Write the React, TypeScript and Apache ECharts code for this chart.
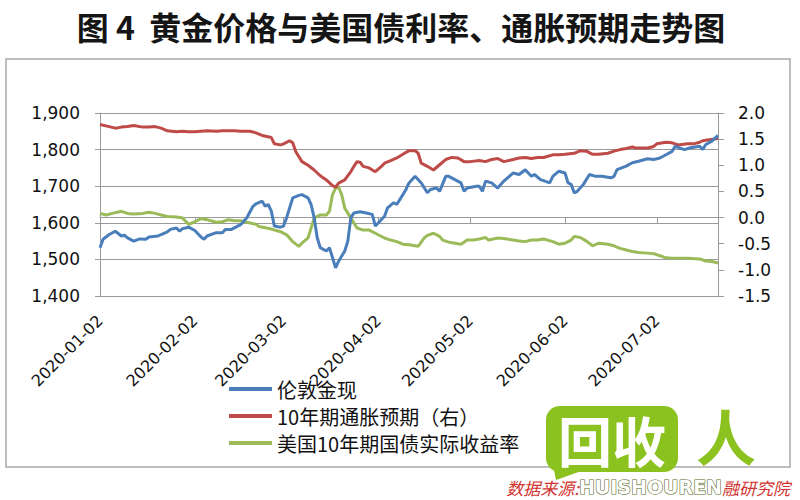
import React, { useEffect, useRef } from "react";
import * as echarts from "echarts";

// Calendar-day category axis: 2020-01-02 .. 2020-07-22
const startDate = "2020-01-02";
const dayCount = 203;
const monthTickLabels = ["2020-01-02", "2020-02-02", "2020-03-02", "2020-04-02", "2020-05-02", "2020-06-02", "2020-07-02"];

const seriesNames = ["伦敦金现", "10年期通胀预期（右）", "美国10年期国债实际收益率"];

// [days since 2020-01-02, value]
const goldPts: [number, number][] = [
  [0,1532],[1,1555],[3,1568],[5,1577],[7,1564],[8,1566],[9,1559],[11,1550],[13,1556],[15,1555],[16,1561],[19,1564],[20,1568],[22,1575],[23,1582],[25,1586],[26,1577],[27,1584],[29,1588],[31,1579],[33,1561],[34,1555],[35,1564],[38,1573],[40,1573],[41,1582],[43,1582],[45,1591],[46,1595],[48,1614],[50,1645],[51,1652],[53,1659],[54,1645],[55,1650],[56,1632],[57,1591],[59,1588],[60,1591],[61,1614],[62,1641],[63,1668],[65,1675],[66,1677],[68,1668],[69,1650],[70,1614],[71,1559],[72,1532],[74,1523],[75,1532],[76,1505],[77,1477],[78,1495],[80,1523],[81,1550],[82,1614],[83,1627],[85,1630],[87,1627],[89,1623],[90,1591],[91,1600],[93,1618],[94,1641],[96,1655],[97,1650],[99,1677],[100,1691],[101,1709],[103,1727],[105,1709],[107,1682],[108,1691],[110,1695],[111,1686],[113,1727],[114,1727],[116,1718],[118,1709],[119,1686],[120,1695],[123,1700],[124,1700],[125,1686],[126,1714],[128,1709],[130,1695],[132,1714],[135,1736],[137,1732],[139,1745],[141,1727],[142,1732],[144,1718],[147,1709],[148,1727],[150,1741],[152,1736],[153,1709],[154,1705],[155,1682],[156,1686],[158,1705],[160,1732],[162,1727],[164,1727],[167,1723],[168,1727],[169,1745],[172,1755],[174,1764],[176,1768],[179,1775],[181,1773],[183,1777],[185,1786],[187,1795],[188,1809],[191,1800],[193,1805],[196,1809],[197,1800],[198,1814],[200,1823],[202,1839]
];

const breakevenPts: [number, number][] = [
  [0,1.78],[3,1.74],[5,1.71],[7,1.73],[9,1.74],[11,1.76],[14,1.73],[16,1.73],[18,1.74],[20,1.71],[22,1.66],[25,1.64],[27,1.65],[29,1.64],[31,1.64],[33,1.65],[35,1.66],[38,1.65],[40,1.66],[42,1.66],[44,1.66],[46,1.65],[49,1.65],[51,1.62],[53,1.57],[56,1.53],[57,1.41],[59,1.39],[60,1.41],[62,1.47],[63,1.43],[64,1.26],[66,1.07],[68,1.0],[70,0.91],[72,0.8],[74,0.72],[76,0.61],[77,0.58],[78,0.66],[80,0.72],[82,0.88],[83,0.98],[84,1.07],[85,1.06],[86,0.98],[88,0.95],[89,0.91],[90,0.88],[92,0.98],[93,1.04],[95,1.09],[97,1.14],[99,1.21],[101,1.28],[103,1.28],[104,1.23],[105,1.04],[107,0.98],[109,0.91],[111,1.01],[113,1.11],[115,1.15],[117,1.14],[119,1.07],[121,1.07],[124,1.09],[126,1.07],[128,1.11],[130,1.13],[132,1.07],[135,1.11],[137,1.14],[139,1.15],[141,1.13],[143,1.15],[145,1.15],[148,1.2],[150,1.2],[152,1.21],[155,1.23],[157,1.28],[159,1.27],[161,1.21],[163,1.21],[166,1.23],[168,1.27],[170,1.3],[172,1.32],[174,1.35],[175,1.33],[179,1.33],[181,1.36],[182,1.41],[185,1.44],[187,1.43],[189,1.39],[192,1.41],[194,1.41],[196,1.44],[197,1.47],[199,1.49],[202,1.51]
];

const realYieldPts: [number, number][] = [
  [0,0.08],[2,0.05],[4,0.08],[7,0.12],[9,0.08],[11,0.07],[14,0.08],[16,0.1],[18,0.08],[20,0.05],[22,0.02],[25,0.01],[27,-0.01],[29,-0.13],[31,-0.08],[33,-0.02],[35,-0.04],[38,-0.09],[40,-0.08],[42,-0.04],[44,-0.06],[46,-0.06],[48,-0.09],[51,-0.13],[52,-0.17],[56,-0.22],[59,-0.27],[61,-0.33],[63,-0.46],[65,-0.55],[66,-0.49],[68,-0.39],[69,-0.2],[70,-0.01],[72,0.05],[74,0.05],[75,0.12],[76,0.44],[77,0.56],[78,0.58],[79,0.44],[80,0.18],[82,-0.01],[84,-0.2],[86,-0.24],[88,-0.24],[90,-0.3],[93,-0.39],[95,-0.43],[97,-0.46],[99,-0.51],[101,-0.52],[104,-0.55],[106,-0.39],[107,-0.34],[109,-0.3],[111,-0.36],[112,-0.43],[114,-0.47],[116,-0.49],[118,-0.51],[120,-0.43],[122,-0.43],[124,-0.41],[126,-0.38],[127,-0.43],[130,-0.39],[132,-0.4],[135,-0.43],[137,-0.45],[139,-0.46],[141,-0.43],[143,-0.43],[145,-0.41],[148,-0.46],[150,-0.51],[152,-0.49],[154,-0.43],[155,-0.36],[157,-0.38],[159,-0.45],[161,-0.54],[163,-0.49],[166,-0.51],[168,-0.54],[170,-0.59],[172,-0.62],[174,-0.65],[176,-0.67],[179,-0.68],[181,-0.69],[183,-0.73],[185,-0.77],[187,-0.78],[192,-0.78],[196,-0.79],[198,-0.83],[200,-0.84],[202,-0.87]
];

function buildDays(): string[] {
  const out: string[] = [];
  const base = new Date(startDate + "T00:00:00Z").getTime();
  for (let i = 0; i < dayCount; i++) {
    out.push(new Date(base + i * 86400000).toISOString().slice(0, 10));
  }
  return out;
}

export default function App() {
  const ref = useRef<HTMLDivElement>(null);
  useEffect(() => {
    if (!ref.current) return;
    const chart = echarts.init(ref.current, undefined, { renderer: "svg" });
    const days = buildDays();
    const showMonth = (_i: number, v: string) => monthTickLabels.indexOf(v) >= 0;
    const axisGrey = "#9a9a9a";
    const lime = "#8cc21f";
    chart.setOption({
      animation: false,
      backgroundColor: "#ffffff",
      title: {
        text: "图 4  黄金价格与美国债利率、通胀预期走势图",
        left: 396,
        textAlign: "center",
        top: 5,
        textStyle: { fontSize: 32, fontWeight: "bold", color: "#151515", fontFamily: "Noto Sans CJK SC" },
      },
      legend: {
        orient: "vertical",
        left: 224,
        top: 374,
        itemWidth: 43,
        itemHeight: 4,
        itemGap: 7,
        icon: "rect",
        data: seriesNames,
        textStyle: { fontSize: 20, color: "#111", fontFamily: "Noto Sans CJK SC", lineHeight: 20 },
      },
      grid: { left: 100, right: 82, top: 113, bottom: 204 },
      xAxis: {
        type: "category",
        data: days,
        boundaryGap: false,
        axisLine: { lineStyle: { color: axisGrey, width: 1 } },
        axisTick: { show: true, interval: showMonth, length: 6, lineStyle: { color: axisGrey } },
        axisLabel: {
          interval: showMonth,
          rotate: 45,
          margin: 22,
          fontSize: 16,
          color: "#111",
          fontFamily: "DejaVu Sans",
        },
        splitLine: { show: false },
      },
      yAxis: [
        {
          type: "value",
          min: 1400,
          max: 1900,
          interval: 100,
          axisLine: { show: true, lineStyle: { color: axisGrey } },
          axisTick: { show: true, length: 5, lineStyle: { color: axisGrey } },
          axisLabel: {
            margin: 20,
            fontSize: 17,
            color: "#111",
            fontFamily: "DejaVu Sans",
            formatter: (v: number) => v.toLocaleString("en-US"),
          },
          splitLine: { show: true, lineStyle: { color: axisGrey, width: 1 } },
        },
        {
          type: "value",
          min: -1.5,
          max: 2.0,
          interval: 0.5,
          position: "right",
          axisLine: { show: true, lineStyle: { color: axisGrey } },
          axisTick: { show: true, length: 6, lineStyle: { color: axisGrey } },
          axisLabel: {
            margin: 20,
            fontSize: 17,
            color: "#111",
            fontFamily: "DejaVu Sans",
            formatter: (v: number) => v.toFixed(1),
          },
          splitLine: { show: false },
        },
      ],
      series: [
        {
          name: seriesNames[0],
          type: "line",
          yAxisIndex: 0,
          data: goldPts,
          showSymbol: false,
          symbol: "none",
          lineStyle: { color: "#4a7ebb", width: 3 },
          itemStyle: { color: "#4a7ebb" },
          z: 4,
        },
        {
          name: seriesNames[1],
          type: "line",
          yAxisIndex: 1,
          data: breakevenPts,
          showSymbol: false,
          symbol: "none",
          lineStyle: { color: "#be4b48", width: 3 },
          itemStyle: { color: "#be4b48" },
          z: 3,
        },
        {
          name: seriesNames[2],
          type: "line",
          yAxisIndex: 1,
          data: realYieldPts,
          showSymbol: false,
          symbol: "none",
          lineStyle: { color: "#9bbb59", width: 3 },
          itemStyle: { color: "#9bbb59" },
          z: 2,
        },
      ],
      graphic: [
        {
          type: "rect",
          shape: { x: 6, y: 59, width: 784, height: 408 },
          style: { fill: "none", stroke: "#a8a8a8", lineWidth: 1.5 },
          silent: true,
          z: -1,
        },
        {
          type: "rect",
          shape: { x: 546, y: 406, width: 132, height: 66, r: 14 },
          style: { fill: lime },
          silent: true,
          z: 10,
        },
        {
          type: "polygon",
          shape: { points: [[552, 460], [556, 480], [584, 470]] },
          style: { fill: lime },
          silent: true,
          z: 10,
        },
        {
          type: "text",
          x: 612,
          y: 439,
          style: {
            text: "回收",
            fill: "#ffffff",
            fontSize: 54,
            lineHeight: 56,
            fontWeight: "bold",
            fontFamily: "Noto Sans CJK SC",
            align: "center",
            verticalAlign: "middle",
          },
          silent: true,
          z: 11,
        },
        {
          type: "text",
          x: 726,
          y: 434,
          style: {
            text: "人",
            fill: lime,
            fontSize: 60,
            lineHeight: 56,
            fontWeight: "bold",
            fontFamily: "Noto Sans CJK SC",
            align: "center",
            verticalAlign: "middle",
          },
          silent: true,
          z: 10,
        },
        {
          type: "text",
          x: 790,
          y: 487,
          style: {
            rich: {
              r: { fill: "#d2322d", fontSize: 17, fontStyle: "italic", fontFamily: "Noto Sans CJK SC", lineHeight: 20 },
              w: { fill: "#ffffff", stroke: "#5a6b2a", lineWidth: 1.2, fontSize: 19, fontWeight: "bold", fontFamily: "DejaVu Sans", lineHeight: 20 },
            },
            text: "{r|数据来源:}{w|HUISHOUREN}{r|融研究院}",
            align: "right",
            verticalAlign: "middle",
          },
          silent: true,
          z: 11,
        },
      ],
    });
    return () => chart.dispose();
  }, []);
  return <div ref={ref} style={{ position: "absolute", left: 0, top: 0, width: 800, height: 500 }} />;
}
